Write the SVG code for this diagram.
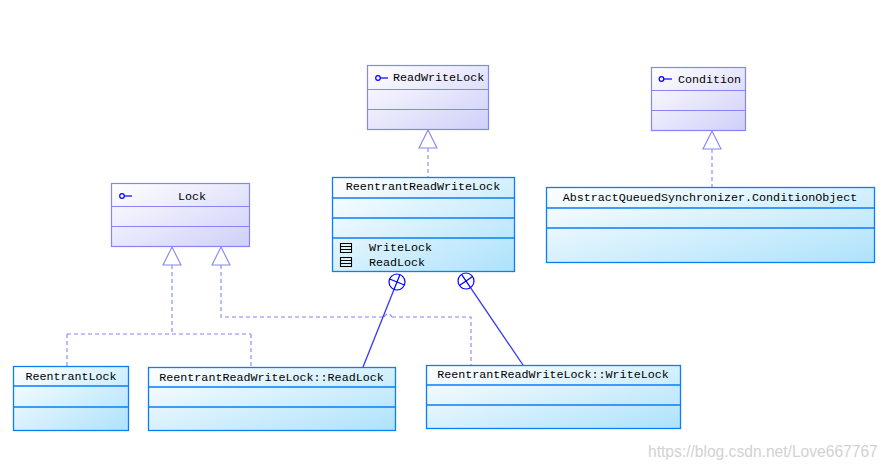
<svg xmlns="http://www.w3.org/2000/svg" width="890" height="471" viewBox="0 0 890 471">
<defs>
<linearGradient id="gi" x1="0" y1="0" x2="1" y2="1"><stop offset="0" stop-color="#ffffff"/><stop offset="1" stop-color="#cfcff9"/></linearGradient>
<linearGradient id="gc" x1="0" y1="0" x2="1" y2="1"><stop offset="0" stop-color="#ffffff"/><stop offset="1" stop-color="#ade2fb"/></linearGradient>
<style>
.ib{fill:url(#gi);stroke:#8585f5;stroke-width:1.2}
.il{stroke:#8585f5;stroke-width:1.2}
.cb{fill:url(#gc);stroke:#0a7ef7;stroke-width:1.3}
.cl{stroke:#0a7ef7;stroke-width:1.3}
.t{font-family:"Liberation Mono",monospace;font-size:11.7px;fill:#000}
.ic{fill:none;stroke:#0000ff;stroke-width:1.2}
.dash{fill:none;stroke:#8585f5;stroke-width:1.1;stroke-dasharray:4 3}
.tri{fill:#fff;stroke:#8585f5;stroke-width:1.1}
.as{fill:none;stroke:#3333ff;stroke-width:1.3}
.att{fill:none;stroke:#000;stroke-width:1.1}
</style>
</defs>
<rect width="890" height="471" fill="#fff"/>
<g id="connectors">
<path class="dash" d="M428 148V177"/>
<path class="tri" d="M428 130L419 148H437Z"/>
<path class="dash" d="M712 149V187"/>
<path class="tri" d="M712 131L703 149H721Z"/>
<path class="dash" d="M172 265V334M67 334H251M67 334V366M251 334V367"/>
<path class="tri" d="M172 247L163 265H181Z"/>
<path class="dash" d="M221 265V317H384M392 317H471V365"/>
<path class="dash" d="M384 317Q388 311 392 317"/>
<path class="tri" d="M221 247L212 265H230Z"/>
<path class="as" d="M394 289.5L363 367"/>
<path class="as" d="M470.5 287.6L523 365"/>
<g class="ic">
<circle cx="397" cy="282" r="8"/>
<path d="M394 289.5L400 274.5M389.6 279L404.4 285"/>
<circle cx="466" cy="281" r="8"/>
<path d="M470.5 287.6L461.5 274.4M459.4 285.5L472.6 276.5"/>
</g>
</g>
<g id="ReadWriteLock">
<rect class="ib" x="367.5" y="65.5" width="121" height="64"/>
<path class="il" d="M367.5 89.5H488.5M367.5 109.5H488.5"/>
<circle class="ic" cx="378" cy="78" r="2.3"/><path class="ic" d="M380.3 78H388"/>
<text class="t" x="393" y="81">ReadWriteLock</text>
</g>
<g id="Condition">
<rect class="ib" x="651.5" y="67.5" width="94" height="63"/>
<path class="il" d="M651.5 90.5H745.5M651.5 110.5H745.5"/>
<circle class="ic" cx="661.5" cy="79" r="2.3"/><path class="ic" d="M663.8 79H672"/>
<text class="t" x="678" y="83">Condition</text>
</g>
<g id="Lock">
<rect class="ib" x="111.5" y="183.5" width="138" height="63"/>
<path class="il" d="M111.5 206.5H249.5M111.5 226.5H249.5"/>
<circle class="ic" cx="122" cy="196" r="2.3"/><path class="ic" d="M124.3 196H132"/>
<text class="t" x="178" y="200">Lock</text>
</g>
<g id="ReentrantReadWriteLock">
<rect class="cb" x="332.5" y="177.5" width="182" height="94"/>
<path class="cl" d="M332.5 198H514.5M332.5 218H514.5M332.5 238H514.5"/>
<text class="t" x="423" y="190" text-anchor="middle">ReentrantReadWriteLock</text>
<path class="att" d="M340.5 243.5h11v9h-11zM340.5 246.5h11M340.5 249.5h11"/>
<path class="att" d="M340.5 257.5h11v9h-11zM340.5 260.5h11M340.5 263.5h11"/>
<text class="t" x="369" y="251">WriteLock</text>
<text class="t" x="369" y="266">ReadLock</text>
</g>
<g id="ConditionObject">
<rect class="cb" x="546.5" y="187.5" width="328" height="75"/>
<path class="cl" d="M546.5 208H874.5M546.5 228H874.5"/>
<text class="t" x="710" y="201" text-anchor="middle">AbstractQueuedSynchronizer.ConditionObject</text>
</g>
<g id="ReentrantLock">
<rect class="cb" x="13.5" y="366.5" width="115" height="64"/>
<path class="cl" d="M13.5 386H128.5M13.5 407H128.5"/>
<text class="t" x="71" y="380" text-anchor="middle">ReentrantLock</text>
</g>
<g id="ReadLock">
<rect class="cb" x="148.5" y="367.5" width="247" height="63"/>
<path class="cl" d="M148.5 387H395.5M148.5 407H395.5"/>
<text class="t" x="271.5" y="381" text-anchor="middle">ReentrantReadWriteLock::ReadLock</text>
</g>
<g id="WriteLock">
<rect class="cb" x="426.5" y="365.5" width="254" height="63"/>
<path class="cl" d="M426.5 385H680.5M426.5 405H680.5"/>
<text class="t" x="553" y="378" text-anchor="middle">ReentrantReadWriteLock::WriteLock</text>
</g>
<text x="648" y="457" style="font-family:'Liberation Sans',Arial,sans-serif;font-size:15.6px;fill:#d2d2d2">https://blog.csdn.net/Love667767</text>
</svg>
